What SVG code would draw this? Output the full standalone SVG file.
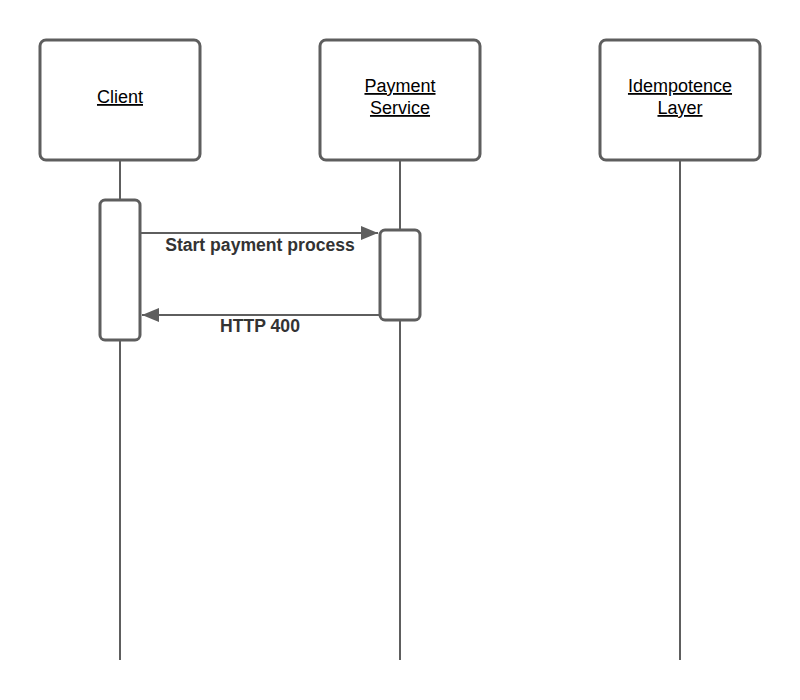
<svg xmlns="http://www.w3.org/2000/svg" width="800" height="700" viewBox="0 0 800 700">
<style>
.box{fill:#fff;stroke:#5e5e5e;stroke-width:3}
.life{stroke:#5e5e5e;stroke-width:2;fill:none}
.name{font-family:"Liberation Sans",Arial,sans-serif;font-size:18px;fill:#000;text-anchor:middle;text-decoration:underline}
.msg{stroke:#5e5e5e;stroke-width:2;fill:none}
.lbl{font-family:"Liberation Sans",Arial,sans-serif;font-size:17.6px;font-weight:bold;fill:#333;text-anchor:middle}
</style>
<defs>
<marker id="ah" viewBox="0 0 17 14" refX="17" refY="7" markerWidth="17" markerHeight="14" markerUnits="userSpaceOnUse" orient="auto">
<path d="M0,0 L17,7 L0,14 Z" fill="#5e5e5e"/>
</marker>
</defs>
<g id="lifelines">
<line class="life" x1="120" y1="160" x2="120" y2="660"/>
<line class="life" x1="400" y1="160" x2="400" y2="660"/>
<line class="life" x1="680" y1="160" x2="680" y2="660"/>
</g>
<g id="client">
<rect class="box" x="40" y="40" width="160" height="120" rx="6"/>
<text class="name" x="120" y="103">Client</text>
</g>
<g id="payment">
<rect class="box" x="320" y="40" width="160" height="120" rx="6"/>
<text class="name" x="400" y="92">Payment</text>
<text class="name" x="400" y="114">Service</text>
</g>
<g id="idempotence">
<rect class="box" x="600" y="40" width="160" height="120" rx="6"/>
<text class="name" x="680" y="92">Idempotence</text>
<text class="name" x="680" y="114">Layer</text>
</g>
<g id="client-activation">
<rect class="box" x="100" y="200" width="40" height="140" rx="5"/>
</g>
<g id="payment-activation">
<rect class="box" x="380" y="230" width="40" height="90" rx="5"/>
</g>
<g id="connectors">
<line class="msg" x1="141" y1="233" x2="378" y2="233" marker-end="url(#ah)"/>
<line class="msg" x1="379" y1="315" x2="142" y2="315" marker-end="url(#ah)"/>
<text class="lbl" x="260" y="251">Start payment process</text>
<text class="lbl" x="260" y="332">HTTP 400</text>
</g>
</svg>
